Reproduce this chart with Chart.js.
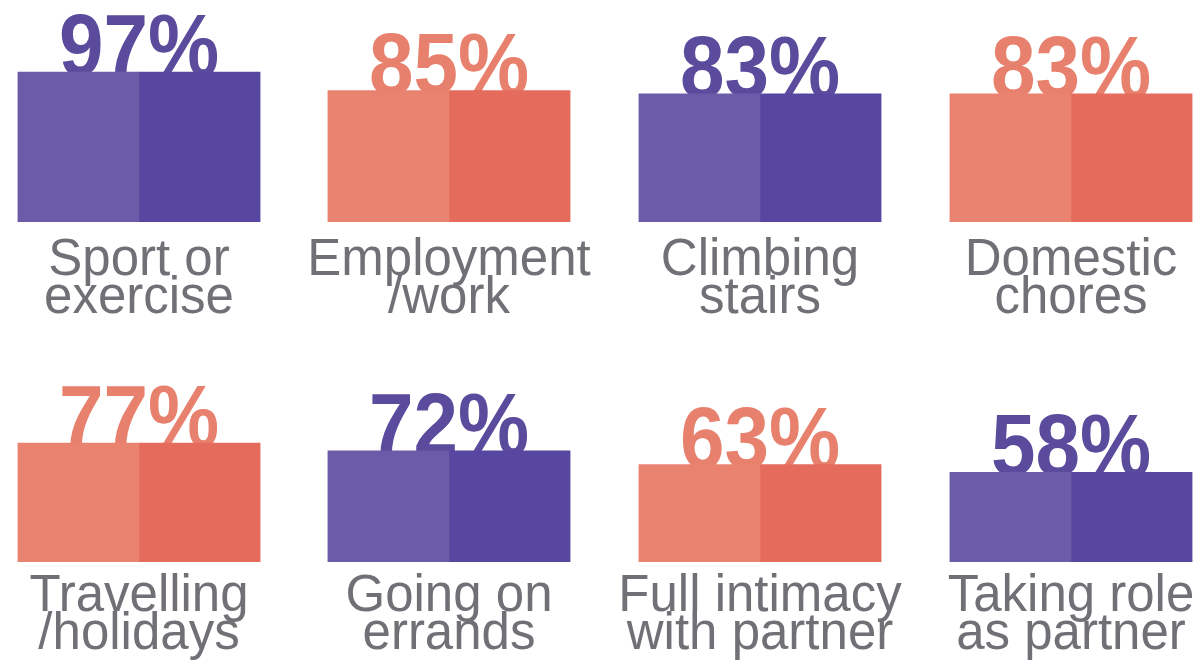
<!DOCTYPE html>
<html>
<head>
<meta charset="utf-8">
<title>Activities</title>
<script src="https://cdn.jsdelivr.net/npm/chart.js@4/dist/chart.umd.min.js"></script>
<style>
  html, body { margin: 0; padding: 0; background: #ffffff; overflow: hidden; width: 1202px; height: 665px; }
  #board { position: relative; width: 1202px; height: 665px; }
  #board canvas { position: absolute; }
</style>
</head>
<body>
<div id="board"></div>
<script>
// Share of respondents for each activity, in reading order (left to right, top to bottom)
const values = [97, 85, 83, 83, 77, 72, 63, 58];

// Activity names, split over two lines
const labelLine1 = ["Sport or", "Employment", "Climbing", "Domestic", "Travelling", "Going on", "Full intimacy", "Taking role"];
const labelLine2 = ["exercise", "/work", "stairs", "chores", "/holidays", "errands", "with partner", "as partner"];

// Panel layout
const COLS = 4;
const colCenters = [139, 448.5, 760, 1071];
const rowBase = [221.7, 561.7];      // page y of each row's bar base
const BAR_W = 243;
const PX_PER_PCT = 1.545;
const CAN_W = 300, CAN_H = 332, BASE_LOCAL = 222;
const captionGap = [53, 49];        // bar base to first caption baseline, per row

const themes = {
  purple: { light: '#6b5ba8', dark: '#5747a0', text: '#5a4b9c' },
  coral:  { light: '#e9826f', dark: '#e56b5d', text: '#e8806e' }
};
const captionColor = '#707076';

const panelText = {
  id: 'panelText',
  beforeDatasetsDraw(chart) {
    // percentage sits on the bar top; the bar is painted over its foot
    const o = chart.options.plugins.panelText;
    const { ctx, chartArea } = chart;
    const cx = (chartArea.left + chartArea.right) / 2;
    const top = chart.scales.y.getPixelForValue(o.value);
    ctx.save();
    ctx.translate(cx, top + 3);
    ctx.scale(0.92, 1);
    ctx.font = 'bold 87px "Liberation Sans", Arial, sans-serif';
    ctx.fillStyle = o.color;
    ctx.textAlign = 'center';
    ctx.textBaseline = 'alphabetic';
    ctx.fillText(o.value + '%', 0, 0);
    ctx.restore();
  },
  afterDatasetsDraw(chart) {
    const o = chart.options.plugins.panelText;
    const { ctx, chartArea } = chart;
    const cx = (chartArea.left + chartArea.right) / 2;
    const base = chart.scales.y.getPixelForValue(0);
    ctx.save();
    ctx.font = '51px "Liberation Sans", Arial, sans-serif';
    ctx.fillStyle = captionColor;
    ctx.textAlign = 'center';
    ctx.textBaseline = 'alphabetic';
    ctx.fillText(o.line1, cx, base + o.gap);
    ctx.fillText(o.line2, cx, base + o.gap + 38);
    ctx.restore();
  }
};

const board = document.getElementById('board');

values.forEach((v, i) => {
  const row = Math.floor(i / COLS), col = i % COLS;
  const theme = (row + col) % 2 === 0 ? themes.purple : themes.coral;

  const canvas = document.createElement('canvas');
  canvas.width = CAN_W;
  canvas.height = CAN_H;
  canvas.style.left = (colCenters[col] - CAN_W / 2) + 'px';
  canvas.style.top = (rowBase[row] - BASE_LOCAL) + 'px';
  board.appendChild(canvas);

  const sidePad = (CAN_W - BAR_W) / 2;
  const areaH = 100 * PX_PER_PCT;

  new Chart(canvas, {
    type: 'bar',
    data: {
      labels: [labelLine1[i] + ' ' + labelLine2[i]],
      datasets: [
        { data: [v], backgroundColor: theme.light, borderWidth: 0 },
        { data: [v], backgroundColor: theme.dark, borderWidth: 0 }
      ]
    },
    options: {
      responsive: false,
      animation: false,
      events: [],
      layout: {
        padding: { left: sidePad, right: sidePad, top: BASE_LOCAL - areaH, bottom: CAN_H - BASE_LOCAL }
      },
      datasets: { bar: { categoryPercentage: 1, barPercentage: 1 } },
      scales: {
        x: { display: false },
        y: { display: false, min: 0, max: 100 }
      },
      plugins: {
        legend: { display: false },
        tooltip: { enabled: false },
        panelText: {
          value: v,
          color: theme.text,
          line1: labelLine1[i],
          line2: labelLine2[i],
          gap: captionGap[row]
        }
      }
    },
    plugins: [panelText]
  });
});
</script>
</body>
</html>
